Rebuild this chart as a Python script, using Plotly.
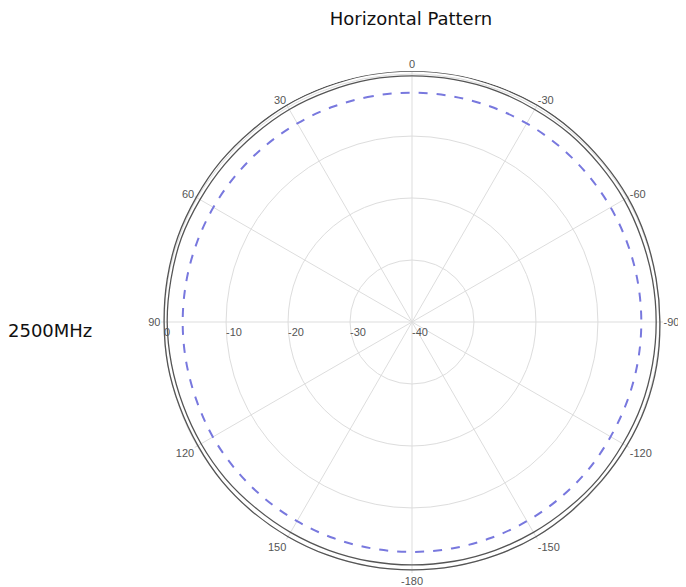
import plotly.graph_objects as go

# angles (degrees, counter-clockwise from top) and gains (dB)
theta = [0, 10, 20, 30, 40, 50, 60, 70, 80, 90, 100, 110, 120, 130, 140, 150, 160, 170,
         180, 190, 200, 210, 220, 230, 240, 250, 260, 270, 280, 290, 300, 310, 320, 330, 340, 350]
outer = [0.5, 0.5, 0.4, 0.4, 0.3, 0.3, 0.2, 0.2, 0.1, 0.0, 0.0, -0.1, -0.1, 0.0, 0.0, 0.0, 0.0, 0.0,
         0.0, 0.0, 0.0, 0.0, -0.1, -0.1, 0.0, 0.1, 0.1, 0.0, 0.0, 0.1, 0.2, 0.2, 0.3, 0.4, 0.4, 0.5]
inner = [-0.3, -0.3, -0.4, -0.4, -0.5, -0.5, -0.5, -0.4, -0.5, -0.5, -0.6, -0.7, -0.7, -0.7, -0.8, -0.8, -0.8, -0.8,
         -0.8, -0.8, -0.8, -0.8, -0.8, -0.7, -0.7, -0.6, -0.6, -0.6, -0.6, -0.6, -0.5, -0.5, -0.4, -0.4, -0.3, -0.3]
dashed = [-3.0, -3.0, -3.0, -3.0, -3.0, -3.0, -3.0, -3.0, -3.0, -3.0, -3.0, -3.0, -2.9, -2.9, -2.9, -2.9, -2.9, -2.9,
          -2.9, -2.9, -2.9, -2.9, -2.9, -2.9, -3.0, -3.0, -3.0, -3.0, -3.0, -3.0, -3.0, -3.0, -3.0, -3.0, -3.0, -3.0]

angle_ticks = [0, 30, 60, 90, 120, 150, 180, 210, 240, 270, 300, 330]
angle_labels = ["0", "30", "60", "90", "120", "150", "-180", "-150", "-120", "-90", "-60", "-30"]
radial_ticks = [-40, -30, -20, -10, 0]
radial_labels = ["-40", "-30", "-20", "-10", "0"]

def closed(a):
    return list(a) + [a[0]]

fig = go.Figure()
fig.add_trace(go.Scatterpolar(r=closed(outer), theta=closed(theta), mode="lines",
                              line=dict(color="#555555", width=1.3, shape="spline"), hoverinfo="skip"))
fig.add_trace(go.Scatterpolar(r=closed(inner), theta=closed(theta), mode="lines",
                              line=dict(color="#555555", width=1.3, shape="spline"), hoverinfo="skip"))
fig.add_trace(go.Scatterpolar(r=closed(dashed), theta=closed(theta), mode="lines",
                              line=dict(color="#7878de", width=2, dash="dash", shape="spline"), hoverinfo="skip"))

tickfont = dict(family="Liberation Sans", size=11, color="#555555")
dx = -7 / 686
dy = 8 / 587
fig.update_layout(
    template="none",
    width=686, height=587,
    margin=dict(l=0, r=0, t=0, b=0),
    paper_bgcolor="white",
    showlegend=False,
    title=dict(text="Horizontal Pattern", x=403/686, xanchor="center", xref="paper",
               y=1 - 11/587, yref="container", yanchor="middle",
               font=dict(family="DejaVu Sans", size=18, color="#111111")),
    polar=dict(
        domain=dict(x=[160/686 + dx, 662/686 + dx], y=[14/587 + dy, 516/587 + dy]),
        bgcolor="white",
        angularaxis=dict(rotation=90, direction="counterclockwise",
                         tickmode="array", tickvals=angle_ticks, ticktext=angle_labels,
                         showline=False, gridcolor="#dddddd", gridwidth=1,
                         ticks="", tickfont=tickfont),
        radialaxis=dict(range=[-40, 0.5], angle=180, side="counterclockwise",
                        tickmode="array", tickvals=radial_ticks, ticktext=radial_labels,
                        showline=False, gridcolor="#dddddd", gridwidth=1,
                        ticks="", tickfont=tickfont, tickangle=180),
    ),
    annotations=[dict(text="2500MHz", x=42/686, y=1 - 322/587, xref="paper", yref="paper",
                      xanchor="center", yanchor="middle", showarrow=False,
                      font=dict(family="DejaVu Sans", size=18, color="#111111"))],
)
fig.write_html("out.html")
